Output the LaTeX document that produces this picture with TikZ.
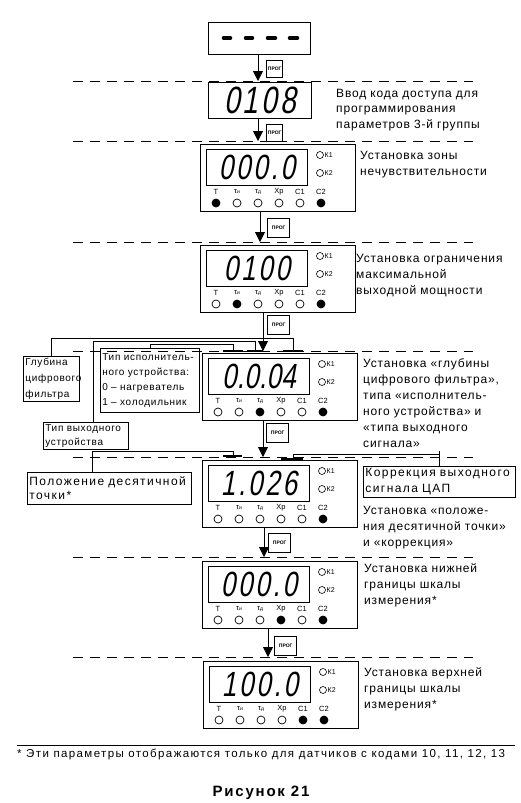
\documentclass[tikz,border=0pt]{standalone}
\usepackage{fontspec}
\setmainfont{Liberation Sans}
\newfontfamily\lab[LetterSpace=7]{Liberation Sans}
\newfontfamily\labw[LetterSpace=12]{Liberation Sans}
\newfontfamily\segfont[FakeSlant=0.18,FakeStretch=0.74,LetterSpace=8]{Liberation Sans}
\newfontfamily\segfontn[FakeSlant=0.18,FakeStretch=0.74,LetterSpace=1]{Liberation Sans}
\usetikzlibrary{arrows.meta,calc}
\tikzset{
  outerbox/.style={draw, line width=0.7pt, inner sep=0, anchor=north west},
  dispwin/.style={draw, line width=0.6pt, inner sep=0, anchor=north west},
  segtxt/.style={font=\segfont\fontsize{35}{35}\selectfont, inner sep=0},
  progs/.style={draw, line width=1.4pt, inner sep=0, anchor=north west, minimum width=16pt, minimum height=17pt, font=\bfseries\fontsize{5}{5}\selectfont},
  progl/.style={draw, line width=1.4pt, inner sep=0, anchor=north west, minimum width=22pt, minimum height=19pt, font=\bfseries\fontsize{5}{5}\selectfont},
  arr/.style={line width=0.8pt, -{Triangle[width=10pt,length=10pt]}},
  sepline/.style={line width=0.7pt, dash pattern=on 10pt off 7pt},
  conn/.style={line width=0.7pt},
  tick/.style={line width=1.2pt},
  klab/.style={anchor=west, inner sep=0, font=\fontsize{7}{8}\selectfont},
  ilab/.style={anchor=center, inner sep=0, font=\fontsize{7.5}{8}\selectfont},
  mlabel/.style={anchor=base west, inner sep=0, align=left, text width=160pt, font=\lab\fontsize{12}{16}\selectfont},
  lbox/.style={draw, line width=0.7pt, anchor=north west, inner sep=2pt, align=left},
}
\newcommand\panel[5]{%
  \node[outerbox, minimum width=155pt, minimum height=67pt] (#1) at (#2,#3) {};
  \begin{scope}[shift={(#2,#3)}]
    \node[dispwin, minimum width=101pt, minimum height=36pt] (#1w) at (6,5) {};
    \node[segtxt] (#1d) at (57,23) {#4};
    \draw[line width=0.6pt] (120,11) circle (3.5pt);
    \node[klab] (#1ka) at (124.5,11) {К1};
    \draw[line width=0.6pt] (120,29) circle (3.5pt);
    \node[klab] (#1kb) at (124.5,29) {К2};
    \foreach \t [count=\i] in {T,τ{\fontsize{5}{5}\selectfont и},τ{\fontsize{5}{5}\selectfont д},Xp,C1,C2}
      \node[ilab] (#1l\i) at ({16+21*(\i-1)},48) {\t};
    \foreach \f [count=\i] in {#5}
      \draw[line width=0.7pt, fill=\f] ({16+21*(\i-1)},59) circle (4pt);
  \end{scope}}
\begin{document}
\begin{tikzpicture}[x=1pt,y=-1pt]
\useasboundingbox (0,0) rectangle (521,803);
% separators
\foreach \y in {81,141,242,351,457,557,657}
  \draw[sepline] (73,\y) -- (473,\y);
% first boxes
\node[outerbox, minimum width=102pt, minimum height=32pt] (b1) at (208,22) {};
\foreach \a/\b in {222/232,244/254,266/277,288/299}
  \draw[line width=3.5pt, line cap=round] (\a+1.5,38) -- (\b-1.5,38);
\node[outerbox, minimum width=103pt, minimum height=36pt] (b2) at (208,82) {};
\node[segtxt, font=\segfont\fontsize{38}{38}\selectfont] (b2d) at (260,100) {0108};
\node[mlabel] (t2) at (336,97) {\fontsize{12}{15}\selectfont Ввод кода доступа для\\программирования\\параметров 3-й группы};
% panels
\panel{p3}{200}{144}{000.0}{black,white,white,white,white,black}
\panel{p4}{200}{245}{0100}{white,black,white,white,white,black}
\panel{p5}{202}{353}{{\segfontn 0.0.04}}{white,white,black,white,white,black}
\panel{p6}{202}{460}{1.026}{white,white,white,white,white,black}
\panel{p7}{202}{561}{000.0}{white,white,white,black,white,black}
\panel{p8}{203}{661}{100.0}{white,white,white,white,black,black}
% right texts
\node[mlabel] (t3) at (360,159) {\fontsize{12}{15}\selectfont Установка зоны\\нечувствительности};
\node[mlabel] (t4) at (356,262) {Установка ограничения\\максимальной\\выходной мощности};
\node[mlabel] (t5) at (363,367) {Установка «глубины\\цифрового фильтра»,\\типа «исполнитель-\\ного устройства» и\\«типа выходного\\сигнала»};
\node[mlabel] (t6) at (363,514) {Установка «положе-\\ния десятичной точки»\\и «коррекция»};
\node[mlabel] (t7) at (364,572) {Установка нижней\\границы шкалы\\измерения*};
\node[mlabel] (t8) at (364,676) {Установка верхней\\границы шкалы\\измерения*};
% arrows
\coordinate (a1) at (258,81);
\coordinate (a2) at (258,141);
\coordinate (a3) at (260,242);
\coordinate (a4) at (263,351);
\coordinate (a5) at (263,457);
\coordinate (a6) at (264,557);
\coordinate (a7) at (268,657);
\draw[arr] (b1.south -| a1) -- (a1);
\draw[arr] (b2.south -| a2) -- (a2);
\draw[arr] (p3.south -| a3) -- (a3);
\draw[arr] (p4.south -| a4) -- (a4);
\draw[arr] (p5.south -| a5) -- (a5);
\draw[arr] (p6.south -| a6) -- (a6);
\draw[arr] (p7.south -| a7) -- (a7);
\node[progs] (pr1) at (266,60) {ПРОГ};
\node[progs] (pr2) at (266,124) {ПРОГ};
\node[progl] (pr3) at (267,218) {ПРОГ};
\node[progl] (pr4) at (267,315) {ПРОГ};
\node[progl] (pr5) at (266,423) {ПРОГ};
\node[progl] (pr6) at (268,533) {ПРОГ};
\node[progl] (pr7) at (274,636) {ПРОГ};
% left label boxes
\node[lbox, text width=52pt, minimum height=43pt, font=\lab\fontsize{10}{16}\selectfont] (glub) at (23,356) {Глубина\\цифрового\\фильтра};
\node[lbox, text width=95pt, minimum height=64pt, font=\lab\fontsize{10}{15}\selectfont] (tisp) at (100,348) {Тип исполнитель-\\ного устройства:\\0 – нагреватель\\1 – холодильник};
\node[lbox, text width=81pt, minimum height=26pt, font=\lab\fontsize{10}{14}\selectfont] (vyh) at (43,422) {Тип выходного\\устройства};
\node[lbox, text width=160pt, minimum height=32pt, font=\labw\fontsize{12}{14}\selectfont] (pol) at (27,472) {Положение десятичной\\точки*};
\node[lbox, text width=148pt, minimum height=31pt, font=\labw\fontsize{12}{16}\selectfont] (korr) at (363,466) {Коррекция выходного\\сигнала ЦАП};
% connectors
\coordinate (g1) at (293,338); \coordinate (g2) at (293,351);
\draw[conn] (glub.north) |- (g1) -- (g2);
\draw[tick] ($(g2)+(-10,0)$) -- ($(g2)+(10,0)$);
\coordinate (v1) at (255,341); \coordinate (v2) at (255,351);
\draw[conn] ($(vyh.north)+(7,0)$) |- (v1) -- (v2);
\draw[tick] ($(v2)+(-8,0)$) -- ($(v2)+(8,0)$);
\coordinate (i1) at (233,344); \coordinate (i2) at (233,351);
\draw[conn] (tisp.north) |- (i1) -- (i2);
\draw[tick] ($(i2)+(-10,0)$) -- ($(i2)+(10,0)$);
\coordinate (q1) at (233,451); \coordinate (q2) at (233,456);
\draw[conn] ($(pol.north west)+(65,0)$) |- (q1) -- (q2);
\draw[tick] ($(q2)+(-10,0)$) -- ($(q2)+(9,0)$);
\coordinate (kt) at (0,451); \coordinate (kh) at (0,454);
\coordinate (k4) at (293,459);
\draw[conn] (korr.north) -- (korr.north |- kt);
\draw[conn] (korr.north |- kh) -| (k4);
\draw[tick] ($(k4)+(-12,0)$) -- ($(k4)+(10,0)$);
% footnote
\draw[line width=0.7pt] (17,745) -- (515,745);
\node[anchor=base west, inner sep=0, font=\labw\fontsize{11.5}{13}\selectfont] (fn) at (17,757) {* Эти параметры отображаются только для датчиков с кодами 10, 11, 12, 13};
\node[anchor=base, inner sep=0, font=\labw\bfseries\fontsize{15}{18}\selectfont] (cap) at (261,796) {Рисунок 21};
\end{tikzpicture}
\end{document}
